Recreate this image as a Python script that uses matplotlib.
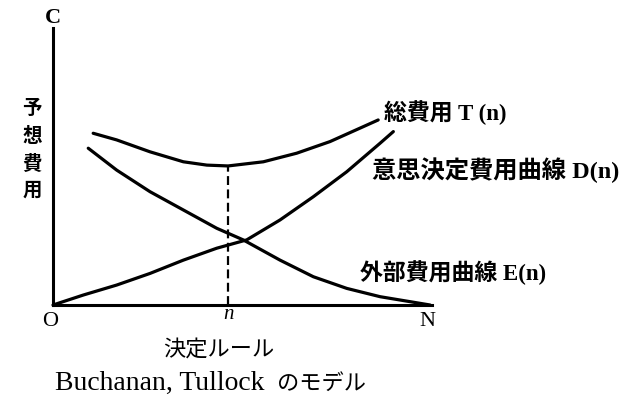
"""Buchanan-Tullock model: expected cost vs decision rule"""
import matplotlib
matplotlib.use('Agg')
import matplotlib.pyplot as plt

FAM = ['Liberation Serif', 'Noto Sans CJK JP']

# decision cost D(n), rising
d_x = [0, 0.80, 1.68, 2.56, 3.44, 4.32, 5.11, 5.99, 6.87, 7.75, 8.63, 8.98]
d_y = [0, 0.36, 0.72, 1.14, 1.62, 2.05, 2.35, 3.07, 3.91, 4.81, 5.84, 6.26]

# external cost E(n), falling
e_x = [0.93, 1.68, 2.56, 3.44, 4.32, 5.02, 5.99, 6.87, 7.75, 8.63, 9.95]
e_y = [5.66, 4.87, 4.09, 3.43, 2.77, 2.35, 1.62, 1.02, 0.60, 0.30, 0.0]

# total cost T(n)
t_x = [1.06, 1.68, 2.56, 3.44, 4.06, 4.62, 5.55, 6.43, 7.31, 8.19, 8.58]
t_y = [6.20, 5.96, 5.53, 5.17, 5.05, 5.02, 5.17, 5.48, 5.90, 6.44, 6.68]

n_opt = 4.62
t_min = 5.02

fig = plt.figure(figsize=(6.27, 3.98), dpi=100)
W, H = 627, 398
ax = fig.add_axes([53 / W, (H - 305) / H, (432 - 53) / W, (305 - 28) / H])
ax.set_xlim(0, 10)
ax.set_ylim(0, 10)
for s in ['top', 'right']:
    ax.spines[s].set_visible(False)
for s in ['left', 'bottom']:
    ax.spines[s].set_linewidth(2.2)
ax.set_xticks([]); ax.set_yticks([])

lw = 2.3
ax.plot(d_x, d_y, color='black', lw=lw, solid_capstyle='round', clip_on=False)
ax.plot(e_x, e_y, color='black', lw=lw, solid_capstyle='round', clip_on=False)
ax.plot(t_x, t_y, color='black', lw=lw, solid_capstyle='round', clip_on=False)
ax.plot([n_opt, n_opt], [0, t_min], color='black', lw=1.6, ls=(0, (4, 2)))

# curve labels
ax.text(8.73, 6.93, '総費用 T (n)', family=FAM, fontsize=16.5, fontweight='bold',
        va='center', ha='left', clip_on=False)
ax.text(8.42, 4.87, '意思決定費用曲線 D(n)', family=FAM, fontsize=17.5, fontweight='bold',
        va='center', ha='left', clip_on=False)
ax.text(8.10, 1.16, '外部費用曲線 E(n)', family=FAM, fontsize=16.5, fontweight='bold',
        va='center', ha='left', clip_on=False)

# axis labels
ax.text(0, 10.36, 'C', family=FAM, fontsize=16, fontweight='bold', ha='center', va='center', clip_on=False)
ax.text(-0.55, 5.6, '予\n想\n費\n用', family=FAM, fontsize=14, fontweight='bold',
        ha='center', va='center', linespacing=1.6, clip_on=False)
ax.text(-0.08, -0.61, 'O', family=FAM, fontsize=16, ha='center', va='center', clip_on=False)
ax.text(n_opt, -0.36, 'n', family=FAM, fontsize=15, style='italic', ha='center', va='center', clip_on=False)
ax.text(9.87, -0.61, 'N', family=FAM, fontsize=16, ha='center', va='center', clip_on=False)
ax.text(4.37, -1.62, '決定ルール', family=FAM, fontsize=16, ha='center', va='center', clip_on=False)
ax.text(0.05, -3.08, 'Buchanan, Tullock', family=FAM, fontsize=20, ha='left', va='baseline', clip_on=False)
ax.text(5.90, -3.08, 'のモデル', family=FAM, fontsize=16, ha='left', va='baseline', clip_on=False)

fig.savefig('out.png', dpi=100)
plt.close()
